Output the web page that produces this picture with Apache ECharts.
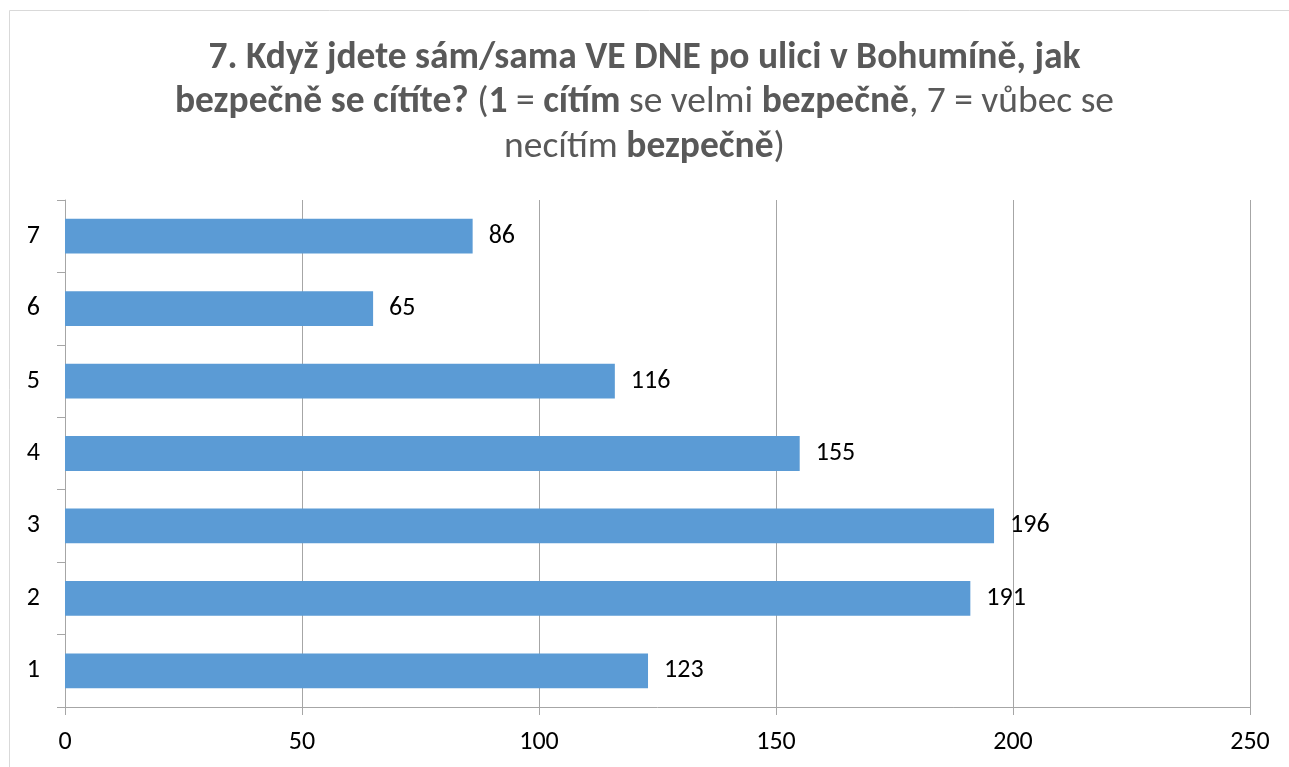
<!DOCTYPE html>
<html>
<head>
<meta charset="utf-8">
<script src="https://cdn.jsdelivr.net/npm/echarts@6/dist/echarts.min.js"></script>
<style>
  html, body { margin: 0; padding: 0; background: #fff; }
  #chart { width: 1289px; height: 767px; }
</style>
</head>
<body>
<div id="chart"></div>
<script>
const categories = ['1', '2', '3', '4', '5', '6', '7'];
const values = [123, 191, 196, 155, 116, 65, 86];
const xTicks = [0, 50, 100, 150, 200, 250];

const font = "Carlito, 'Liberation Sans Narrow', 'Open Sans', sans-serif";
const chart = echarts.init(document.getElementById('chart'));

chart.setOption({
  animation: false,
  graphic: [{
    type: 'rect',
    shape: { x: 9.5, y: 10.5, width: 1300, height: 800 },
    style: { fill: 'none', stroke: '#d9d9d9', lineWidth: 1 }
  }],
  title: {
    left: 'center',
    top: 31,
    text: '{b|7. Když jdete sám/sama VE DNE po ulici v Bohumíně, jak}\n' +
          '{b|bezpečně se cítíte?} {n|(}{b|1} {n|=} {b|cítím} {n|se velmi} {b|bezpečně}{n|, 7 = vůbec se}\n' +
          '{n|necítím} {b|bezpečně}{n|)}',
    textStyle: {
      fontFamily: font,
      fontSize: 37.5,
      color: '#595959',
      lineHeight: 44.5,
      rich: {
        b: { fontFamily: font, fontSize: 37.5, fontWeight: 'bold', color: '#595959', lineHeight: 44.5 },
        n: { fontFamily: font, fontSize: 37.5, fontWeight: 'normal', color: '#595959', lineHeight: 44.5 }
      }
    }
  },
  grid: { left: 65, right: 39, top: 200, bottom: 60, containLabel: false },
  xAxis: {
    type: 'value',
    min: xTicks[0],
    max: xTicks[xTicks.length - 1],
    interval: 50,
    axisLine: { show: true, lineStyle: { color: '#a6a6a6' } },
    axisTick: { show: true, length: 8, lineStyle: { color: '#a6a6a6' } },
    axisLabel: { fontFamily: font, fontSize: 26, color: '#000', margin: 22 },
    splitLine: { show: true, lineStyle: { color: '#a6a6a6' } }
  },
  yAxis: {
    type: 'category',
    data: categories,
    axisLine: { show: true, lineStyle: { color: '#a6a6a6' } },
    axisTick: { show: true, length: 8, lineStyle: { color: '#a6a6a6' } },
    axisLabel: { fontFamily: font, fontSize: 26, color: '#000', margin: 25 }
  },
  series: [{
    type: 'bar',
    data: values,
    barCategoryGap: '52%',
    itemStyle: { color: '#5b9bd5' },
    label: {
      show: true,
      position: 'right',
      distance: 16,
      fontFamily: font,
      fontSize: 26,
      color: '#000'
    }
  }]
});
</script>
</body>
</html>
